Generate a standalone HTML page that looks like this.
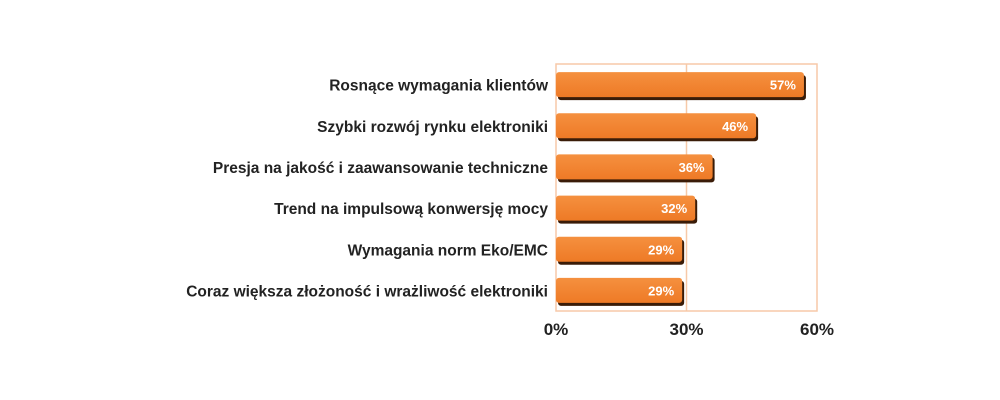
<!DOCTYPE html>
<html><head><meta charset="utf-8"><style>
body{margin:0;background:#fff;}
svg{display:block;font-family:"Liberation Sans",sans-serif;}
</style></head><body>
<svg width="1000" height="400">
<defs>
<linearGradient id="g" x1="0" y1="0" x2="0" y2="1">
<stop offset="0" stop-color="#f5903f"/><stop offset="1" stop-color="#ee7a26"/>
</linearGradient>
</defs>
<g id="chart"></g>
</svg>
<script>
const categories=["Rosnące wymagania klientów","Szybki rozwój rynku elektroniki","Presja na jakość i zaawansowanie techniczne","Trend na impulsową konwersję mocy","Wymagania norm Eko/EMC","Coraz większa złożoność i wrażliwość elektroniki"];
const values=[57,46,36,32,29,29];
const ticks=[0,30,60];
const NS="http://www.w3.org/2000/svg";
const g=document.getElementById('chart');
const x0=556,x1=817,yTop=64,yBot=311;
const xs=v=>x0+(x1-x0)*v/60;
const band=(yBot-yTop)/categories.length;
const yc=i=>yTop+band*(i+0.5);
function el(t,a){const e=document.createElementNS(NS,t);for(const k in a)e.setAttribute(k,a[k]);g.appendChild(e);return e;}
let f=el('rect',{x:x0,y:yTop,width:x1-x0,height:yBot-yTop,fill:'none',stroke:'#f7c9a8','stroke-width':1.5});


ticks.forEach(t=>{
 if(t>0&&t<60){let l=el('line',{x1:xs(t),x2:xs(t),y1:yTop,y2:yBot,stroke:'#f7c9a8','stroke-width':1.5});
 
 }
 let tx=el('text',{x:xs(t),y:335,'text-anchor':'middle','font-size':17,'font-weight':'bold',fill:'#222'});
 tx.textContent=t+'%';
 
 
});
categories.forEach((c,i)=>{
 const y=yc(i),h=25;
 let s=el('rect',{x:x0+2,y:y-h/2+3,width:xs(values[i])-x0,height:h,rx:3,fill:'#3a1c08'});
 
 
 let b=el('rect',{x:x0,y:y-h/2,width:xs(values[i])-x0,height:h,rx:3,fill:'url(#g)'});
 
 
 let v=el('text',{x:xs(values[i])-8,y:y+5,'text-anchor':'end','font-size':13,'font-weight':'bold',fill:'#fff'});
 v.textContent=values[i]+'%';
 
 
 let l=el('text',{x:548,y:y+6,'text-anchor':'end','font-size':15.5,'font-weight':'bold',fill:'#222'});
 l.textContent=c;
 
 
});
</script>
</body></html>
